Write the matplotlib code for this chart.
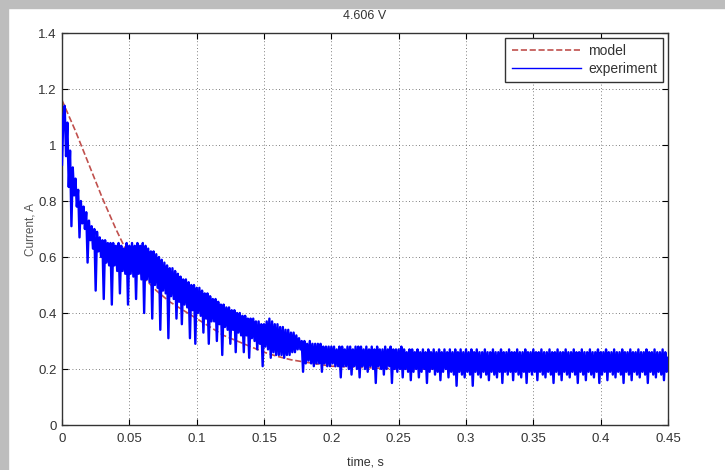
import numpy as np
import matplotlib
matplotlib.use('Agg')
import matplotlib.pyplot as plt
from matplotlib.patches import Rectangle

plt.rcParams['font.family'] = ['Liberation Sans', 'DejaVu Sans']

title = '4.606 V'
xlabel = 'time, s'
ylabel = 'Current, A'

# model curve
t_model = [0, 0.01, 0.02, 0.03, 0.04, 0.045, 0.05, 0.06, 0.07, 0.08, 0.09, 0.10,
           0.11, 0.12, 0.13, 0.14, 0.15, 0.16, 0.17, 0.18, 0.20, 0.25, 0.30, 0.45]
i_model = [1.16, 1.05, 0.93, 0.81, 0.70, 0.65, 0.60, 0.53, 0.48, 0.44, 0.41, 0.38,
           0.35, 0.32, 0.30, 0.28, 0.26, 0.245, 0.233, 0.225, 0.21, 0.20, 0.20, 0.20]

# experiment, one sample per ms
dt = 0.001
i_exp = [
    0.93, 1.10, 1.14, 0.96, 1.08, 0.85, 0.98, 0.71, 0.92, 0.82,
    0.88, 0.78, 0.84, 0.67, 0.80, 0.72, 0.78, 0.70, 0.76, 0.58,
    0.73, 0.66, 0.71, 0.63, 0.70, 0.48, 0.69, 0.62, 0.67, 0.60,
    0.66, 0.45, 0.66, 0.58, 0.65, 0.57, 0.65, 0.43, 0.65, 0.57,
    0.64, 0.55, 0.65, 0.47, 0.64, 0.55, 0.63, 0.54, 0.65, 0.43,
    0.64, 0.54, 0.65, 0.53, 0.64, 0.45, 0.65, 0.54, 0.64, 0.52,
    0.65, 0.40, 0.64, 0.52, 0.63, 0.51, 0.62, 0.38, 0.62, 0.50,
    0.61, 0.49, 0.60, 0.34, 0.59, 0.48, 0.58, 0.47, 0.57, 0.31,
    0.56, 0.46, 0.56, 0.45, 0.55, 0.38, 0.54, 0.44, 0.53, 0.36,
    0.52, 0.43, 0.52, 0.42, 0.51, 0.31, 0.50, 0.41, 0.50, 0.29,
    0.49, 0.40, 0.49, 0.39, 0.48, 0.33, 0.47, 0.38, 0.47, 0.29,
    0.46, 0.37, 0.45, 0.37, 0.45, 0.30, 0.44, 0.36, 0.43, 0.25,
    0.43, 0.35, 0.42, 0.34, 0.42, 0.29, 0.41, 0.34, 0.41, 0.26,
    0.40, 0.33, 0.40, 0.32, 0.39, 0.26, 0.39, 0.32, 0.38, 0.24,
    0.38, 0.31, 0.38, 0.30, 0.37, 0.27, 0.37, 0.29, 0.36, 0.21,
    0.36, 0.28, 0.37, 0.27, 0.38, 0.24, 0.37, 0.26, 0.36, 0.25,
    0.36, 0.25, 0.35, 0.25, 0.35, 0.24, 0.34, 0.25, 0.34, 0.25,
    0.33, 0.26, 0.33, 0.26, 0.32, 0.27, 0.31, 0.27, 0.30, 0.19,
    0.30, 0.22, 0.29, 0.23, 0.30, 0.22, 0.29, 0.21, 0.29, 0.22,
    0.29, 0.22, 0.29, 0.19, 0.28, 0.22, 0.28, 0.21, 0.28, 0.21,
    0.28, 0.22, 0.28, 0.21, 0.27, 0.21, 0.28, 0.17, 0.28, 0.21,
    0.27, 0.21, 0.28, 0.20, 0.28, 0.18, 0.27, 0.21, 0.28, 0.20,
    0.28, 0.17, 0.28, 0.21, 0.27, 0.20, 0.28, 0.19, 0.27, 0.21,
    0.28, 0.20, 0.27, 0.15, 0.28, 0.21, 0.27, 0.20, 0.27, 0.18,
    0.28, 0.20, 0.27, 0.21, 0.28, 0.15, 0.27, 0.20, 0.27, 0.19,
    0.27, 0.20, 0.28, 0.17, 0.27, 0.20, 0.26, 0.19, 0.27, 0.16,
    0.27, 0.19, 0.26, 0.20, 0.27, 0.17, 0.26, 0.19, 0.27, 0.20,
    0.26, 0.15, 0.27, 0.19, 0.26, 0.20, 0.27, 0.18, 0.26, 0.19,
    0.27, 0.16, 0.26, 0.19, 0.27, 0.20, 0.26, 0.17, 0.27, 0.19,
    0.26, 0.18, 0.27, 0.14, 0.26, 0.19, 0.27, 0.18, 0.26, 0.17,
    0.27, 0.19, 0.26, 0.18, 0.27, 0.14, 0.26, 0.19, 0.27, 0.18,
    0.26, 0.17, 0.26, 0.19, 0.27, 0.18, 0.26, 0.16, 0.26, 0.19,
    0.27, 0.18, 0.26, 0.17, 0.26, 0.19, 0.27, 0.15, 0.26, 0.19,
    0.26, 0.18, 0.27, 0.19, 0.26, 0.16, 0.26, 0.19, 0.27, 0.18,
    0.26, 0.17, 0.26, 0.19, 0.27, 0.15, 0.26, 0.19, 0.26, 0.18,
    0.27, 0.19, 0.26, 0.16, 0.26, 0.19, 0.27, 0.18, 0.26, 0.17,
    0.26, 0.19, 0.27, 0.18, 0.26, 0.15, 0.26, 0.19, 0.27, 0.18,
    0.26, 0.16, 0.26, 0.19, 0.27, 0.18, 0.26, 0.17, 0.26, 0.19,
    0.27, 0.18, 0.26, 0.15, 0.26, 0.19, 0.27, 0.18, 0.26, 0.16,
    0.26, 0.19, 0.27, 0.18, 0.26, 0.17, 0.26, 0.19, 0.27, 0.15,
    0.26, 0.18, 0.26, 0.19, 0.27, 0.16, 0.26, 0.19, 0.26, 0.18,
    0.27, 0.17, 0.26, 0.19, 0.26, 0.18, 0.27, 0.15, 0.26, 0.19,
    0.26, 0.18, 0.27, 0.16, 0.26, 0.19, 0.26, 0.18, 0.27, 0.17,
    0.26, 0.19, 0.26, 0.18, 0.27, 0.15, 0.26, 0.19, 0.26, 0.18,
    0.27, 0.17, 0.26, 0.19, 0.26, 0.18, 0.27, 0.16, 0.26, 0.19,
    0.24,
]
t_exp = np.arange(len(i_exp)) * dt

xticks = [0, 0.05, 0.1, 0.15, 0.2, 0.25, 0.3, 0.35, 0.4, 0.45]
xtick_labels = ['0', '0.05', '0.1', '0.15', '0.2', '0.25', '0.3', '0.35', '0.4', '0.45']
yticks = [0, 0.2, 0.4, 0.6, 0.8, 1.0, 1.2, 1.4]
ytick_labels = ['0', '0.2', '0.4', '0.6', '0.8', '1', '1.2', '1.4']

fig = plt.figure(figsize=(7.25, 4.7), dpi=100)
fig.patch.set_facecolor('white')
# grey strips left and top of the screenshot
fig.patches.append(Rectangle((0, 0), 8 / 725, 1, transform=fig.transFigure,
                             color='#bdbdbd', zorder=0))
fig.patches.append(Rectangle((0, 1 - 8 / 470), 1, 8 / 470, transform=fig.transFigure,
                             color='#bdbdbd', zorder=0))

ax = fig.add_axes([62 / 725, 45 / 470, 606 / 725, 392 / 470])

ax.plot(t_model, i_model, '--', color='#c0504d', lw=1.2, label='model', zorder=2)
ax.plot(t_exp, i_exp, '-', color='#0000ff', lw=1.7, label='experiment', zorder=3)

ax.set_xlim(0, 0.45)
ax.set_ylim(0, 1.4)
ax.set_xticks(xticks)
ax.set_xticklabels(xtick_labels)
ax.set_yticks(yticks)
ax.set_yticklabels(ytick_labels)

ax.grid(True, color='#555555', linestyle=(0, (1, 3)), lw=0.6)
ax.set_axisbelow(True)
ax.tick_params(direction='in', top=True, right=True, length=4, width=0.8,
               labelsize=9.5, labelcolor='#333333', pad=6)
ax.tick_params(axis='y', pad=4)
for s in ax.spines.values():
    s.set_linewidth(1.0)
    s.set_color('#333333')

ax.set_title(title, fontsize=9, color='#333333', pad=10)
ax.set_xlabel(xlabel, fontsize=9, color='#333333', labelpad=8)
ax.set_ylabel(ylabel, fontsize=8.5, color='#555555')
ax.yaxis.set_label_coords(-0.042, 0.5)

leg = ax.legend(loc='upper right', fontsize=10, handlelength=5.0, fancybox=False,
                framealpha=1, edgecolor='#333333', borderpad=0.45, labelspacing=0.25,
                handletextpad=0.5, borderaxespad=0.35)
leg.get_frame().set_linewidth(1.0)
leg.get_lines()[1].set_linewidth(1.0)
for txt in leg.get_texts():
    txt.set_color('#333333')

fig.savefig('out.png', dpi=100)
